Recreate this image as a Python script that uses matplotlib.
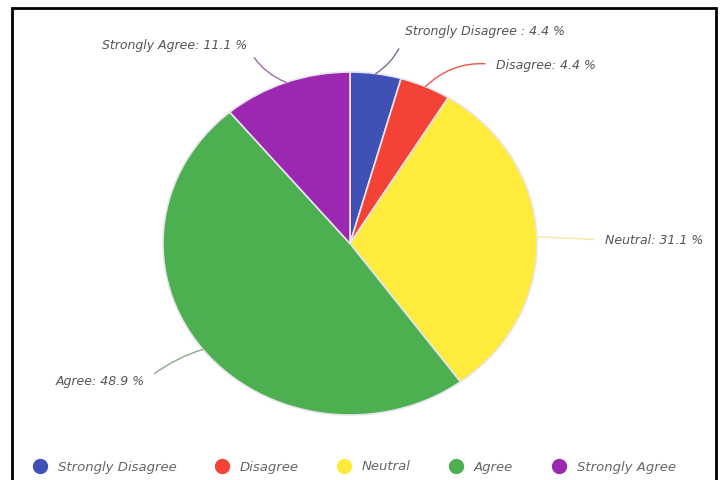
import numpy as np
import matplotlib.pyplot as plt
from matplotlib.lines import Line2D
from matplotlib.patches import Rectangle

# survey response shares (%)
categories = ["Strongly Disagree", "Disagree", "Neutral", "Agree", "Strongly Agree"]
shares = [4.4, 4.4, 31.1, 48.9, 11.1]
label_text = ["Strongly Disagree : 4.4 %", "Disagree: 4.4 %", "Neutral: 31.1 %",
              "Agree: 48.9 %", "Strongly Agree: 11.1 %"]
colors = ["#3F51B5", "#F44336", "#FFEB3B", "#4CAF50", "#9C27B0"]
line_colors = ["#6E7590", "#E9564C", "#F3EBA0", "#8AA88C", "#9A6FA4"]

fig = plt.figure(figsize=(7.2, 4.8), dpi=100)
fig.patch.set_facecolor("white")

# pie axes (slightly stretched horizontally)
ax = fig.add_axes([163 / 720, 65 / 480, 374 / 720, 343 / 480])
wedges, _ = ax.pie(shares, colors=colors, startangle=90, counterclock=False,
                   wedgeprops=dict(edgecolor="#E8E4EE", linewidth=1.2))
ax.set_aspect("auto")
ax.set_xlim(-1, 1)
ax.set_ylim(-1, 1)

# label positions in figure pixels, and alignment
label_pos = [(405, 448), (496, 415), (605, 240), (145, 99), (247, 435)]
label_ha = ["left", "left", "left", "right", "right"]
label_rad = [-0.2, 0.25, 0.0, -0.1, 0.2]

font = dict(family="DejaVu Sans", style="italic", size=9, color="#555555")

for w, txt, pos, ha, rad, lc in zip(wedges, label_text, label_pos, label_ha,
                                     label_rad, line_colors):
    mid = np.deg2rad((w.theta1 + w.theta2) / 2)
    ax.annotate(txt, xy=(np.cos(mid), np.sin(mid)), xycoords="data",
                xytext=pos, textcoords="figure pixels", ha=ha, va="center",
                annotation_clip=False, **font,
                arrowprops=dict(arrowstyle="-", color=lc, lw=1.0,
                                relpos=(0, 0.5) if ha == "left" else (1, 0.5),
                                shrinkA=6, shrinkB=0,
                                connectionstyle=f"arc3,rad={rad}"))

# legend along the bottom
handles = [Line2D([], [], marker="o", linestyle="none", markersize=10,
                  markerfacecolor=c, markeredgecolor=c) for c in colors]
fig.legend(handles, categories, loc="center", bbox_to_anchor=(0.49, 13 / 480),
           ncol=5, frameon=False, handlelength=1.5, handletextpad=0.6,
           columnspacing=2.7,
           prop=dict(family="DejaVu Sans", style="italic", size=9.5))
for t in fig.legends[0].get_texts():
    t.set_color("#666666")

# black frame round the chart
fig.patches.append(Rectangle((12 / 720, -0.1), 704 / 720, 1.1 - 8 / 480,
                             transform=fig.transFigure, fill=False,
                             edgecolor="black", linewidth=2))

fig.savefig("out.png", dpi=100)
